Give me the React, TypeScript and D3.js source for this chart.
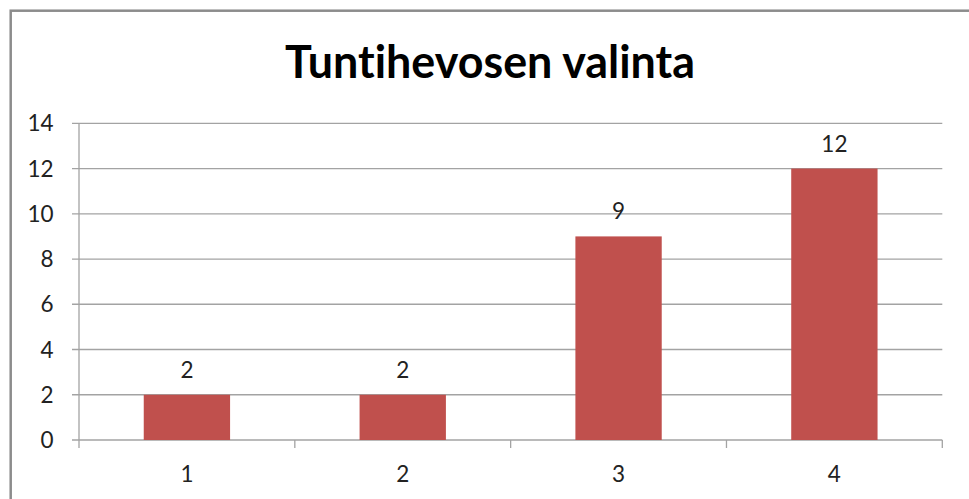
import React from "react";
import * as d3 from "d3";

const categories = ["1", "2", "3", "4"];
const values = [2, 2, 9, 12];
const yTicks = [0, 2, 4, 6, 8, 10, 12, 14];
const title = "Tuntihevosen valinta";

const W = 969;
const H = 499;
const plot = { left: 79, right: 942.3, top: 123.3, bottom: 440 };
const gridColor = "#a3a3a3";
const barColor = "#C0504D";
const font = "Lato, 'Open Sans', sans-serif";
const noLig = { fontVariantLigatures: "none" as const, fontFeatureSettings: "'liga' 0, 'clig' 0" };

export default function App() {
  const x = d3
    .scaleBand<string>()
    .domain(categories)
    .range([plot.left, plot.right])
    .paddingInner(0.6)
    .paddingOuter(0.3);
  const y = d3.scaleLinear().domain([0, 14]).range([plot.bottom, plot.top]);
  const step = x.step();
  const boundaries = d3.range(categories.length + 1).map((i) => plot.left + i * step);

  return (
    <svg
      width={W}
      height={H}
      style={{ position: "absolute", left: 0, top: 0, background: "#fff" }}
    >
      <rect x={0} y={0} width={W} height={H} fill="#fff" />
      <rect
        x={10.7}
        y={10.7}
        width={W + 20}
        height={H + 20}
        fill="none"
        stroke="#8c8c8c"
        strokeWidth={2.5}
      />
      <text
        x={490}
        y={78.3}
        textAnchor="middle"
        fontFamily={font}
        fontWeight={700}
        fontSize={46}
        textLength={410}
        lengthAdjust="spacingAndGlyphs"
        fill="#000"
        style={noLig}
      >
        {title}
      </text>
      {yTicks.map((t) => (
        <g key={t}>
          <line
            x1={plot.left - 7}
            x2={plot.right}
            y1={y(t)}
            y2={y(t)}
            stroke={gridColor}
            strokeWidth={1.3}
          />
          <text
            x={53.5}
            y={y(t)}
            dy="0.36em"
            textAnchor="end"
            fontFamily={font}
            fontSize={22.5}
            fill="#222"
          >
            {t}
          </text>
        </g>
      ))}
      <line
        x1={plot.left}
        x2={plot.left}
        y1={plot.top}
        y2={plot.bottom}
        stroke={gridColor}
        strokeWidth={1.3}
      />
      {boundaries.map((bx, i) => (
        <line
          key={i}
          x1={bx}
          x2={bx}
          y1={plot.bottom}
          y2={plot.bottom + 8}
          stroke={gridColor}
          strokeWidth={1.3}
        />
      ))}
      {categories.map((c, i) => {
        const bx = x(c) as number;
        const bw = x.bandwidth();
        return (
          <g key={c}>
            <rect
              x={bx}
              y={y(values[i])}
              width={bw}
              height={y(0) - y(values[i])}
              fill={barColor}
            />
            <text
              x={bx + bw / 2}
              y={y(values[i]) - 17}
              textAnchor="middle"
              fontFamily={font}
              fontSize={22.5}
              fill="#222"
            >
              {values[i]}
            </text>
            <text
              x={bx + bw / 2}
              y={481.7}
              textAnchor="middle"
              fontFamily={font}
              fontSize={22.5}
              fill="#222"
            >
              {c}
            </text>
          </g>
        );
      })}
    </svg>
  );
}
